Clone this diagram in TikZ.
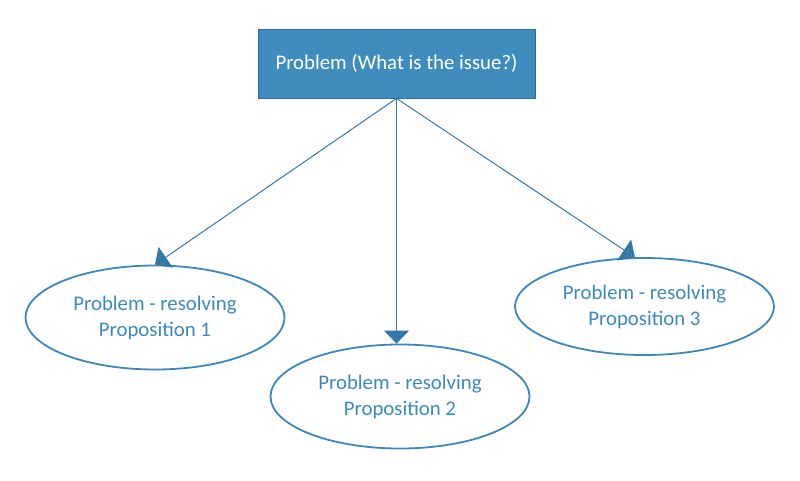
\documentclass[tikz,border=0pt]{standalone}
\usepackage{fontspec}
\setmainfont{Carlito}
\usetikzlibrary{shapes.geometric,arrows.meta}
\definecolor{boxfill}{HTML}{3F8DBF}
\definecolor{boxline}{HTML}{2E6E9E}
\definecolor{ellline}{HTML}{3D87BA}
\definecolor{elltext}{HTML}{3D89BD}
\definecolor{arrowcol}{HTML}{3578A8}
\tikzset{
  topbox/.style={draw=boxline, fill=boxfill, line width=0.8pt, text=white,
    minimum width=277pt, minimum height=69pt, inner sep=0pt, font=\fontsize{20.8}{24}\selectfont},
  propell/.style={ellipse, draw=ellline, line width=1.8pt, text=elltext,
    minimum width=259pt, minimum height=104pt, inner sep=0pt, align=center,
    font=\fontsize{20.8}{26}\selectfont},
  conn/.style={draw=arrowcol, line width=1pt,
    -{Triangle[width=25pt,length=13pt,fill=arrowcol]}}
}
\begin{document}
\begin{tikzpicture}[x=1pt,y=-1pt]
\useasboundingbox (0,0) rectangle (800,480);
\node[topbox] (top) at (396.5,63.5) {Problem (What is the issue?)};
\node[propell] (e1) at (155,317.5) {Problem - resolving\\Proposition 1};
\node[propell] (e2) at (400,396.5) {Problem - resolving\\Proposition 2};
\node[propell, minimum height=97pt] (e3) at (644.5,306.5) {Problem - resolving\\Proposition 3};
\draw[conn] (top.south) -- (e1.north);
\draw[conn] (top.south) -- (top.south |- e2.north);
\draw[conn] (top.south) -- (e3.101);
\end{tikzpicture}
\end{document}
